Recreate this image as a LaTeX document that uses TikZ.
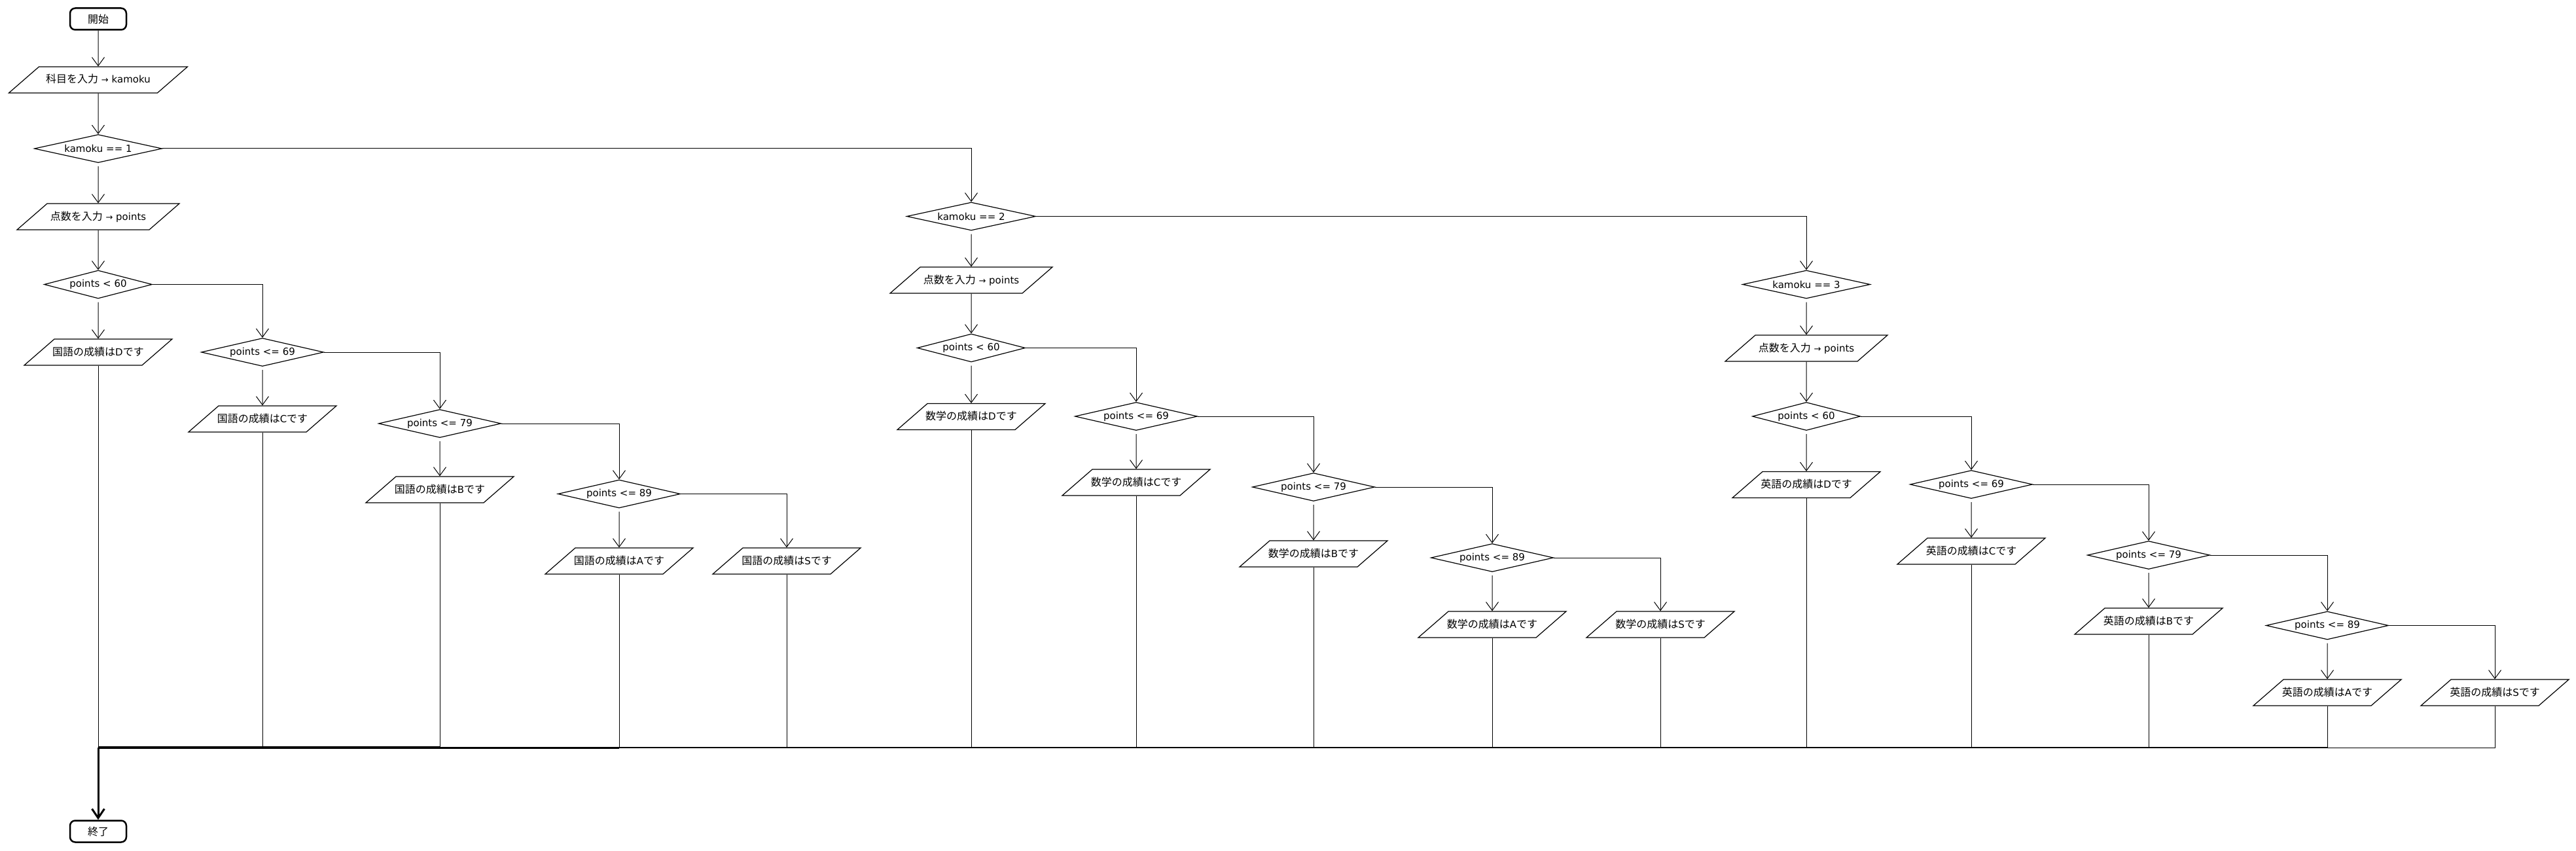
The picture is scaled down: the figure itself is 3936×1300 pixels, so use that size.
\documentclass[tikz,border=0pt]{standalone}
\usepackage{fontspec}
\setmainfont{DejaVu Sans}
\newfontfamily\jpfont{Noto Sans CJK JP}
\usetikzlibrary{shapes.geometric,arrows.meta}
\newcommand\J[1]{{\jpfont\fontsize{16pt}{19pt}\selectfont #1}}
\newcommand\rarr{{\fontsize{13pt}{13pt}\selectfont →}}
\begin{document}
\begin{tikzpicture}[x=1pt,y=-1pt,
  every node/.style={font=\fontsize{15pt}{18pt}\selectfont},
  term/.style={draw, line width=2.5pt, rounded corners=8pt, minimum width=86pt, minimum height=33pt, inner sep=0pt},
  io/.style={draw, line width=1.2pt, trapezium, trapezium left angle=41, trapezium right angle=139, trapezium stretches body, text height=14pt, text depth=4pt, inner ysep=11pt, inner xsep=-4pt, minimum width=#1},
  io/.default=226pt,
  dec/.style={draw, line width=1.2pt, diamond, aspect=4.4, inner sep=0pt, minimum height=43pt, minimum width=#1},
  dec/.default=187pt,
  flow/.style={line width=1pt, -{Straight Barb[length=13pt,width=19pt]}},
  fromdec/.style={flow, shorten <=5pt},
  plain/.style={line width=1pt},
]
\useasboundingbox (0,0) rectangle (3936,1300);

% start / input
\node[term] (start) at (150,29) {\J{開始}};
\node[io=273pt] (in1) at (150,122) {\J{科目を入力} \rarr{} kamoku};

% column 1
\node[dec=195pt] (k1) at (150,227) {kamoku == 1};
\node[io=248pt] (p1) at (150,331) {\J{点数を入力} \rarr{} points};
\node[dec=165pt] (a1) at (150,434.5) {points < 60};
\node[io] (rD1) at (150,538) {\J{国語の成績は}D\J{です}};
\node[dec] (b1) at (401,538) {points <= 69};
\node[io] (rC1) at (401,640) {\J{国語の成績は}C\J{です}};
\node[dec] (c1) at (672,647) {points <= 79};
\node[io] (rB1) at (672,748) {\J{国語の成績は}B\J{です}};
\node[dec] (d1) at (946,754.5) {points <= 89};
\node[io] (rA1) at (946,857) {\J{国語の成績は}A\J{です}};
\node[io] (rS1) at (1202,857) {\J{国語の成績は}S\J{です}};

% column 2
\node[dec=197pt] (k2) at (1484,330.5) {kamoku == 2};
\node[io=248pt] (p2) at (1484,428) {\J{点数を入力} \rarr{} points};
\node[dec=165pt] (a2) at (1484,531.5) {points < 60};
\node[io] (rD2) at (1484,636.5) {\J{数学の成績は}D\J{です}};
\node[dec] (b2) at (1736,636) {points <= 69};
\node[io] (rC2) at (1736,737) {\J{数学の成績は}C\J{です}};
\node[dec] (c2) at (2007,744) {points <= 79};
\node[io] (rB2) at (2007,846) {\J{数学の成績は}B\J{です}};
\node[dec] (d2) at (2280,852) {points <= 89};
\node[io] (rA2) at (2280,954) {\J{数学の成績は}A\J{です}};
\node[io] (rS2) at (2537,954) {\J{数学の成績は}S\J{です}};

% column 3
\node[dec=195pt] (k3) at (2760,434.5) {kamoku == 3};
\node[io=248pt] (p3) at (2760,532) {\J{点数を入力} \rarr{} points};
\node[dec=165pt] (a3) at (2760,636) {points < 60};
\node[io] (rD3) at (2760,740.5) {\J{英語の成績は}D\J{です}};
\node[dec] (b3) at (3012,740) {points <= 69};
\node[io] (rC3) at (3012,842) {\J{英語の成績は}C\J{です}};
\node[dec] (c3) at (3283,848) {points <= 79};
\node[io] (rB3) at (3283,949) {\J{英語の成績は}B\J{です}};
\node[dec] (d3) at (3556,955.5) {points <= 89};
\node[io] (rA3) at (3556,1058) {\J{英語の成績は}A\J{です}};
\node[io] (rS3) at (3812,1058) {\J{英語の成績は}S\J{です}};

% end
\coordinate (merge) at (150,1142);
\node[term] (end) at (150,1270) {\J{終了}};

% connectors
\draw[flow] (start.south) -- (in1.north);
\draw[flow] (in1.south) -- (k1.north);
\draw[flow] (k1.east) -| (k2.north);
\draw[flow] (k2.east) -| (k3.north);
\foreach \c in {1,2,3} {
  \draw[fromdec] (k\c.south) -- (p\c.north);
  \draw[flow] (p\c.south) -- (a\c.north);
  \draw[fromdec] (a\c.south) -- (rD\c.north);
  \draw[flow] (a\c.east) -| (b\c.north);
  \draw[fromdec] (b\c.south) -- (rC\c.north);
  \draw[flow] (b\c.east) -| (c\c.north);
  \draw[fromdec] (c\c.south) -- (rB\c.north);
  \draw[flow] (c\c.east) -| (d\c.north);
  \draw[fromdec] (d\c.south) -- (rA\c.north);
  \draw[flow] (d\c.east) -| (rS\c.north);
}
% merge into end
\foreach \n in {rD1,rC1,rB1,rA1,rS1,rD2,rC2,rB2,rA2,rS2,rD3,rC3,rB3,rA3,rS3}
  \draw[plain] (\n.south) |- (merge);
\foreach \a/\b/\w in {merge/rC1/3.3, rC1/rB1/3.15, rB1/rA1/3.0, rA1/rS1/2.8, rS1/rD2/2.6,
    rD2/rC2/2.45, rC2/rB2/2.25, rB2/rA2/2.1, rA2/rS2/1.9, rS2/rD3/1.7, rD3/rC3/1.55,
    rC3/rB3/1.35, rB3/rA3/1.2, rA3/rS3/1.0}
  \draw[line width=\w pt] (\a |- merge) -- (\b |- merge);
\draw[line width=3pt, -{Straight Barb[length=14pt,width=19pt]}] (merge) -- (end.north);
\end{tikzpicture}
\end{document}
